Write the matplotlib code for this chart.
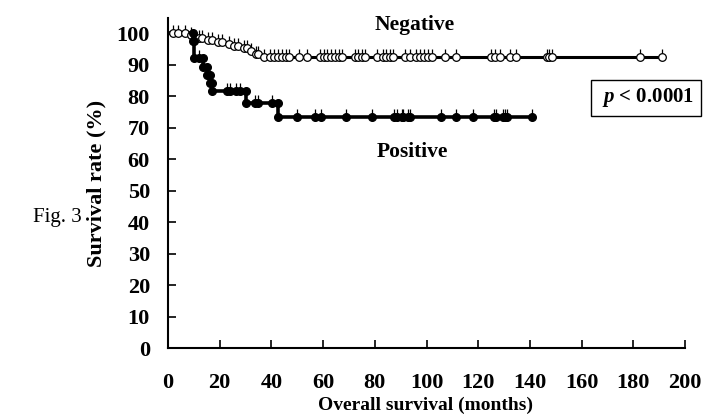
import numpy as np
import matplotlib
matplotlib.use("Agg")
import matplotlib.pyplot as plt
from matplotlib.path import Path

plt.rcParams['font.family'] = ['Liberation Serif', 'DejaVu Serif']
plt.rcParams['mathtext.fontset'] = 'custom'
plt.rcParams['mathtext.it'] = 'Liberation Serif:italic:bold'

# Kaplan-Meier steps (months, survival % after the event)
neg_event_t = [7, 10, 14, 18, 22, 25, 28, 31, 33, 36]
neg_event_s = [99.3, 98.6, 97.9, 97.2, 96.6, 95.9, 95.2, 94.4, 93.5, 92.5]
neg_censor_t = [2, 4, 6.5, 9, 10.5, 12, 13, 15.5, 17, 19.5, 21, 23.5, 25.5, 27,
                29.5, 30.5, 32, 34, 35, 37, 39.5, 41, 42.5, 44, 45.5, 47,
                50.5, 53.7, 58.8, 60.2, 61.5, 63, 64.5, 66, 67.2, 72.3, 73.5,
                75, 76.2, 80.7, 83.2, 84.5, 85.8, 87, 91.7, 93.5, 96, 97.5,
                99, 100.5, 102, 107, 111.4, 125, 126.5, 128.4, 132.3, 134.5,
                146.5, 147.5, 148.4, 182.6, 191]

pos_event_t = [9.8, 10, 13.7, 15, 16.2, 17.2, 30.2, 42.7]
pos_event_s = [97.5, 92, 89.3, 86.7, 84.1, 81.5, 77.8, 73.4]
pos_censor_t = [12, 22.7, 24, 26.3, 27.9, 33.7, 34.9, 40.1, 50, 57, 59, 69,
                79, 87.4, 88.5, 90.5, 91, 93, 93.6, 105.5, 111.4, 118, 126,
                127, 129.5, 130.4, 131.3, 141]

x_ticks = [0, 20, 40, 60, 80, 100, 120, 140, 160, 180, 200]
y_ticks = [0, 10, 20, 30, 40, 50, 60, 70, 80, 90, 100]


def km_curve(ev_t, ev_s, end_t):
    t = np.concatenate([[0], ev_t, [end_t]])
    s = np.concatenate([[100], ev_s, [ev_s[-1]]])
    return t, s


def level_at(ev_t, ev_s, times):
    idx = np.searchsorted(ev_t, times, side='right')
    lv = np.concatenate([[100], ev_s])
    return lv[idx]


# upward censor tick: line from marker centre up
tick_marker = Path([(0, 0), (0, 1)], [Path.MOVETO, Path.LINETO])

fig = plt.figure(figsize=(7.12, 4.18), dpi=100)
ax = fig.add_axes([168 / 712, 1 - 348 / 418, (685 - 168) / 712, (348 - 18) / 418])

# negative
t, s = km_curve(neg_event_t, neg_event_s, max(neg_censor_t))
ax.step(t, s, where='post', color='black', lw=2.2, zorder=2)
cs = level_at(neg_event_t, neg_event_s, neg_censor_t)
ax.plot(neg_censor_t, cs, linestyle='none', marker=tick_marker, markersize=12,
        mew=0.9, color='black', zorder=3)
ax.plot(neg_censor_t, cs, linestyle='none', marker='o', markersize=5.5,
        mfc='white', mec='black', mew=0.9, zorder=4)

# positive
t, s = km_curve(pos_event_t, pos_event_s, max(pos_censor_t))
ax.step(t, s, where='post', color='black', lw=2.6, zorder=2)
cs = level_at(pos_event_t, pos_event_s, pos_censor_t)
ax.plot(pos_censor_t, cs, linestyle='none', marker=tick_marker, markersize=12,
        mew=0.9, color='black', zorder=3)
ax.plot(pos_censor_t, cs, linestyle='none', marker='o', markersize=5.5,
        color='black', zorder=4)
before = np.concatenate([[100], pos_event_s[:-1]])
ax.plot(np.concatenate([pos_event_t, pos_event_t]),
        np.concatenate([before, pos_event_s]), linestyle='none', marker='o',
        markersize=5.5, color='black', zorder=4)

ax.set_xlim(0, 200)
ax.set_ylim(0, 104.8)
ax.set_xticks(x_ticks)
ax.set_yticks(y_ticks)
ax.tick_params(axis='both', direction='in', labelsize=16, width=1.2)
ax.tick_params(axis='y', length=6, pad=13)
ax.tick_params(axis='x', length=6, pad=18)
for lab in ax.get_xticklabels() + ax.get_yticklabels():
    lab.set_fontweight('bold')
for side in ['top', 'right']:
    ax.spines[side].set_visible(False)
for side in ['left', 'bottom']:
    ax.spines[side].set_linewidth(1.5)

ax.text(95.5, 102.5, 'Negative', ha='center', va='center', fontsize=15.5,
        fontweight='bold')
ax.text(94.4, 62.2, 'Positive', ha='center', va='center', fontsize=15.5,
        fontweight='bold')
ax.text(185, 79.4, r' $p$ < 0.0001 ', ha='center', va='center', fontsize=15,
        fontweight='bold', clip_on=False,
        bbox=dict(boxstyle='square,pad=0.3', fc='white', ec='black', lw=1.0))

fig.text(96 / 712, 1 - 183 / 418, 'Survival rate (%)', rotation=90,
         ha='center', va='center', fontsize=16, fontweight='bold')
fig.text(426 / 712, 1 - 405 / 418, 'Overall survival (months)', ha='center',
         va='center', fontsize=14, fontweight='bold')
fig.text(57 / 712, 1 - 218 / 418, 'Fig. 3', ha='center', va='center',
         fontsize=15)

fig.savefig('out.png', dpi=100)
